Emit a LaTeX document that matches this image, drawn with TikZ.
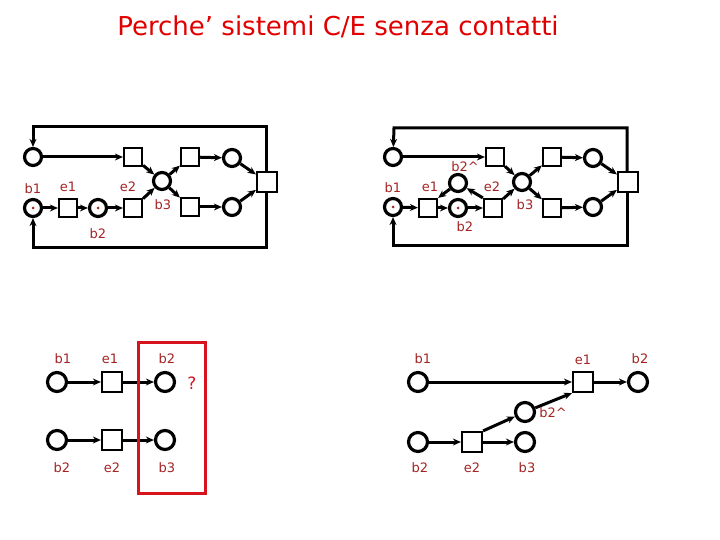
\documentclass[tikz,border=0pt]{standalone}
\usepackage{fontspec}
\setmainfont{DejaVu Sans}
\usepackage{tikz}
\usetikzlibrary{arrows.meta}
\definecolor{lblred}{RGB}{165,35,35}
\definecolor{boxred}{RGB}{215,20,30}
\definecolor{titlered}{RGB}{225,0,0}

\begin{document}
\begin{tikzpicture}[x=1pt, y=-1pt, >={Stealth[length=8pt,width=7pt]},
    place/.style={circle, draw, line width=3.2pt, minimum size=17pt, inner sep=0pt},
    bigplace/.style={place, minimum size=19pt},
    trans/.style={rectangle, draw, line width=2.2pt, minimum size=18pt, inner sep=0pt},
    bigtrans/.style={trans, minimum size=20pt},
    arc/.style={->, line width=3pt},
    lbl/.style={text=lblred, font=\fontsize{13}{15}\selectfont},
    tok/.style={circle, fill=lblred, inner sep=0pt, minimum size=3pt}]
    \useasboundingbox (0,0) rectangle (720,540);
    \node[text=titlered, font=\fontsize{26}{30}\selectfont] (title) at (338,27) {Perche' sistemi C/E senza contatti};

    % net on the left
    \node[place] (La) at (33,157) {};  \node[trans] (Lt) at (133,157) {};
    \node[place] (Lb3) at (162,181) {};
    \node[trans] (Lu) at (190,157) {}; \node[trans] (Ld) at (190,207) {};
    \node[place] (Lp) at (232,158) {}; \node[place] (Lq) at (232,207) {};
    \node[bigtrans] (Lz) at (267,182) {};
    \node[place] (Lb1) at (33,208) {}; \node[trans] (Le1) at (68,208) {};
    \node[place] (Lb2) at (98,208) {}; \node[trans] (Le2) at (133,208) {};
    \node[tok] at (Lb1) {}; \node[tok] at (Lb2) {};
    \coordinate (Ltr) at (266,127); \coordinate (Ltl) at (33,127);
    \coordinate (Lbr) at (266,247); \coordinate (Lbl) at (33,247);
    \draw[arc] (La)--(Lt); \draw[arc] (Lt)--(Lb3); \draw[arc] (Le2)--(Lb3);
    \draw[arc] (Lb3)--(Lu); \draw[arc] (Lb3)--(Ld);
    \draw[arc] (Lu)--(Lp); \draw[arc] (Ld)--(Lq);
    \draw[arc] (Lp)--(Lz); \draw[arc] (Lq)--(Lz);
    \draw[arc] (Lb1)--(Le1); \draw[arc] (Le1)--(Lb2); \draw[arc] (Lb2)--(Le2);
    \draw[arc] (Lz.north -| Ltr)--(Ltr)--(Ltl)--(La);
    \draw[arc] (Lz.south -| Lbr)--(Lbr)--(Lbl)--(Lb1);
    \foreach \t/\x/\y in {b1/33/189, e1/68/187, e2/128/187, b3/163/205, b2/98/234}
        \node[lbl] at (\x,\y) {\t};

    % net on the right, with b2^
    \node[place] (Ra) at (393,157) {}; \node[trans] (Rt) at (495,157) {};
    \node[place] (Rb3) at (522,182) {};
    \node[trans] (Ru) at (552,157) {}; \node[trans] (Rd) at (552,208) {};
    \node[place] (Rp) at (593,158) {}; \node[place] (Rq) at (593,207) {};
    \node[bigtrans] (Rz) at (628,182) {};
    \node[place] (Rb1) at (393,207) {}; \node[trans] (Re1) at (428,208) {};
    \node[place] (Rb2) at (458,208) {}; \node[trans] (Re2) at (493,208) {};
    \node[place] (Rh) at (458,183) {};
    \node[tok] at (Rb1) {}; \node[tok] at (Rb2) {};
    \coordinate (Rtr) at (627,128); \coordinate (Rtl) at (394,128);
    \coordinate (Rbr) at (627,245); \coordinate (Rbl) at (393,245);
    \draw[arc] (Ra)--(Rt); \draw[arc] (Rt)--(Rb3); \draw[arc] (Re2)--(Rb3);
    \draw[arc] (Rb3)--(Ru); \draw[arc] (Rb3)--(Rd);
    \draw[arc] (Ru)--(Rp); \draw[arc] (Rd)--(Rq);
    \draw[arc] (Rp)--(Rz); \draw[arc] (Rq)--(Rz);
    \draw[arc] (Rb1)--(Re1); \draw[arc] (Re1)--(Rb2); \draw[arc] (Rb2)--(Re2);
    \draw[arc] (Rh)--(Re1.north east); \draw[arc] (Re2.north west)--(Rh);
    \draw[arc] (Rz.north -| Rtr)--(Rtr)--(Rtl)--(Ra);
    \draw[arc] (Rz.south -| Rbr)--(Rbr)--(Rbl)--(Rb1);
    \foreach \t/\x/\y in {b1/393/188, e1/430/187, b2\^{}/465/167, e2/492/187, b3/525/205, b2/465/227}
        \node[lbl] at (\x,\y) {\t};

    % two events, bottom left
    \node[bigplace] (Ab1) at (57,382) {}; \node[bigtrans] (Ae1) at (112,382) {}; \node[bigplace] (Ab2) at (165,382) {};
    \node[bigplace] (Cb2) at (57,440) {}; \node[bigtrans] (Ce2) at (112,440) {}; \node[bigplace] (Cb3) at (165,440) {};
    \draw[arc] (Ab1)--(Ae1); \draw[arc] (Ae1)--(Ab2);
    \draw[arc] (Cb2)--(Ce2); \draw[arc] (Ce2)--(Cb3);
    \draw[boxred, line width=3pt] (138,342) rectangle (205,493);
    \node[lbl, text=boxred, font=\fontsize{17}{19}\selectfont] (q) at (192,383) {?};
    \foreach \t/\x/\y in {b1/63/359, e1/110/359, b2/167/359, b2/62/468, e2/112/468, b3/167/468}
        \node[lbl] at (\x,\y) {\t};

    % same events with b2^, bottom right
    \node[bigplace] (Bb1) at (418,382) {}; \node[bigtrans] (Be1) at (583,382) {}; \node[bigplace] (Bb2) at (638,382) {};
    \node[bigplace] (Bh) at (525,412) {};
    \node[bigplace] (Db2) at (418,442) {}; \node[bigtrans] (De2) at (472,442) {}; \node[bigplace] (Db3) at (525,442) {};
    \draw[arc] (Bb1)--(Be1); \draw[arc] (Be1)--(Bb2);
    \draw[arc] (Bh)--(Be1.south west);
    \draw[arc] (Db2)--(De2); \draw[arc] (De2)--(Db3); \draw[arc] (De2.north east)--(Bh);
    \foreach \t/\x/\y in {b1/423/359, e1/583/360, b2/640/359, b2\^{}/553/413, b2/420/468, e2/472/468, b3/527/468}
        \node[lbl] at (\x,\y) {\t};
\end{tikzpicture}
\end{document}
